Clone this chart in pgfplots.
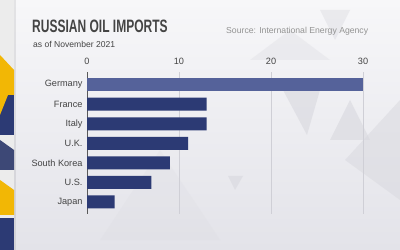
\documentclass[border=0pt]{standalone}
\usepackage{pgfplots}
\pgfplotsset{compat=1.18}
\usepackage{fontspec}
\setmainfont{Liberation Sans}
\usepackage{graphicx}
\definecolor{navy}{HTML}{2C3A74}
\definecolor{germ}{HTML}{55629A}
\definecolor{txt}{HTML}{444444}
\definecolor{gridc}{HTML}{CFCFD6}
\definecolor{ylw}{HTML}{F2B705}
\definecolor{tri}{HTML}{D8D8DE}
\definecolor{bgtop}{HTML}{F7F7F9}
\definecolor{bgbot}{HTML}{E3E3E9}
\begin{document}
\begin{tikzpicture}
\begin{scope}[x=1bp,y=1bp]
% background
\shade[top color=bgtop, bottom color=bgbot] (0,0) rectangle (400,250);
\useasboundingbox (0,0) rectangle (400,250);
% decorative triangles
\fill[tri,opacity=0.6] (330,250-140) -- (370,250-140) -- (350,250-100) -- cycle;
\fill[tri,opacity=0.6] (283,250-90) -- (320,250-90) -- (307,250-135) -- cycle;
\fill[tri,opacity=0.5] (345,250-160) -- (400,250-100) -- (400,250-200) -- cycle;
\fill[tri,opacity=0.6] (228,250-176) -- (243,250-176) -- (235,250-190) -- cycle;
\fill[tri,opacity=0.4] (320,250-10) -- (350,250-10) -- (335,250-40) -- cycle;
\fill[tri,opacity=0.3] (290,250-30) -- (330,250-60) -- (250,250-60) -- cycle;
\fill[tri,opacity=0.2] (100,250-240) -- (160,250-150) -- (220,250-240) -- cycle;
% left stripe
\fill[white!85!gray] (0,0) rectangle (14,250);
\fill[ylw] (0,250-55) -- (14,250-70) -- (14,250-95) -- (0,250-95) -- cycle;
\fill[navy] (0,250-95) -- (14,250-95) -- (14,250-135) -- (0,250-135) -- cycle;
\fill[ylw] (0,250-95) -- (8,250-95) -- (0,250-115) -- cycle;
\fill[navy!80!gray] (0,250-140) -- (14,250-150) -- (14,250-170) -- (0,250-170) -- cycle;
\fill[ylw] (0,250-180) -- (14,250-190) -- (14,250-215) -- (0,250-215) -- cycle;
\fill[navy] (0,0) rectangle (14,250-218);
\fill[black,opacity=0.08] (14,0) rectangle (16,250);
% titles
\node[anchor=base west,inner sep=0,text=txt] at (32,250-32) {\scalebox{0.67}[1]{\fontsize{18}{18}\selectfont\bfseries RUSSIAN OIL IMPORTS}};
\node[anchor=base west,inner sep=0,text=txt] at (33,250-47) {\fontsize{8.6}{9}\selectfont as of November 2021};
\node[anchor=base west,inner sep=0,text=gray!85] at (226,250-33) {\fontsize{8.7}{9}\selectfont Source: International Energy Agency};
\end{scope}
\begin{axis}[
  at={(87bp,178bp)}, anchor=north west,
  scale only axis, width=276bp, height=141.7bp,
  xbar, bar width=13bp,
  xmin=0, xmax=30,
  ymin=-0.65, ymax=6.6, y dir=reverse,
  ytick={0,...,6},
  yticklabels={Germany,France,Italy,U.K.,South Korea,U.S.,Japan},
  xtick={0,10,20,30},
  xticklabel pos=upper,
  axis line style={draw=none},
  major tick length=0pt,
  xmajorgrids, grid style={gridc, line width=0.6pt},
  tick label style={text=txt, font=\fontsize{9.2}{10}\selectfont},
  yticklabel style={xshift=-1bp},
  xticklabel style={yshift=4bp},
  /pgf/number format/assume math mode=true,
  clip=false,
]
\draw[gray!70!black, line width=0.7pt] (axis cs:0,-0.65) -- (axis cs:0,6.6);
\addplot[fill=navy, draw=none, bar shift=0pt] coordinates {(13,1) (13,2) (11,3) (9,4) (7,5) (3,6)};
\addplot[fill=germ, draw=none, bar shift=0pt] coordinates {(30,0)};
\end{axis}
\end{tikzpicture}
\end{document}
